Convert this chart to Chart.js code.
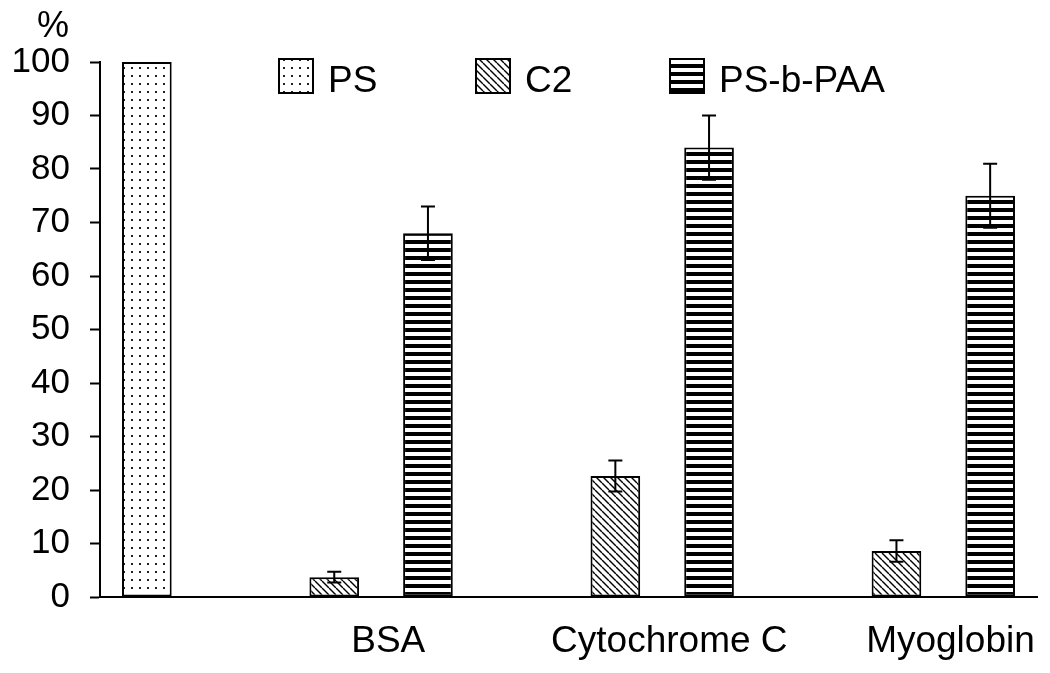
<!DOCTYPE html>
<html><head><meta charset="utf-8">
<script src="https://cdn.jsdelivr.net/npm/chart.js@4.4.1/dist/chart.umd.min.js"></script>
<style>html,body{margin:0;padding:0;background:#fff;} #wrap{width:1050px;height:673px;position:relative;}</style>
</head><body><div id="wrap"><canvas id="c"></canvas></div>
<script>
// ---- data ----
const categories = ["", "", "BSA", "", "", "Cytochrome C", "", "", "Myoglobin", ""];
const seriesNames = ["PS", "C2", "PS-b-PAA"];
const psValues = [100, null, null, null, null, null, null, null, null, null];
const c2Values = [null, null, 3.7, null, null, 22.6, null, null, 8.6, null];
const psbpaaValues = [null, null, null, 68, null, null, 84, null, null, 75];
const psErrors = [null, null, null, null, null, null, null, null, null, null];
const c2Errors = [null, null, 1.0, null, null, 2.9, null, null, 2.0, null];
const psbpaaErrors = [null, null, null, 5, null, null, 6, null, null, 6];
const yMin = 0, yMax = 100, yStep = 10;
const yUnit = "%";

// ---- patterns ----
function tile(w, h, draw) {
  const cv = document.createElement('canvas');
  cv.width = w; cv.height = h;
  const g = cv.getContext('2d');
  g.fillStyle = '#fff'; g.fillRect(0, 0, w, h);
  draw(g, w, h);
  return document.createElement('canvas').getContext('2d').createPattern(cv, 'repeat');
}
const dotPattern = tile(8, 8, (g) => { g.fillStyle = '#222'; g.fillRect(3, 3, 2, 2); });
const diagPattern = tile(7, 7, (g, s) => {
  g.strokeStyle = '#000'; g.lineWidth = 1.4;
  for (let k = -1; k <= 1; k++) { g.beginPath(); g.moveTo(k * s, 0); g.lineTo(k * s + s, s); g.stroke(); }
});
const stripePattern = tile(8, 8, (g) => { g.fillStyle = '#000'; g.fillRect(0, 0, 8, 4); });

const FONT = "'Liberation Sans', Arial, sans-serif";
Chart.defaults.font.family = FONT;
Chart.defaults.color = '#000';

const errorBars = {
  id: 'errorBars',
  afterDatasetsDraw(chart) {
    const ctx = chart.ctx, ys = chart.scales.y;
    ctx.save();
    ctx.strokeStyle = '#000'; ctx.lineWidth = 2;
    chart.data.datasets.forEach((ds, di) => {
      const meta = chart.getDatasetMeta(di);
      (ds.errors || []).forEach((e, i) => {
        const v = ds.data[i];
        if (e == null || v == null) return;
        const x = meta.data[i].x;
        const t = ys.getPixelForValue(v + e), b = ys.getPixelForValue(v - e);
        ctx.beginPath();
        ctx.moveTo(x, t); ctx.lineTo(x, b);
        ctx.moveTo(x - 7, t); ctx.lineTo(x + 7, t);
        ctx.moveTo(x - 7, b); ctx.lineTo(x + 7, b);
        ctx.stroke();
      });
    });
    ctx.restore();
  }
};

const customLegend = {
  id: 'customLegend',
  afterDraw(chart, args, opts) {
    const ctx = chart.ctx;
    ctx.save();
    chart.data.datasets.forEach((ds, i) => {
      const x = opts.boxX[i], y = opts.boxY, s = opts.box;
      ctx.fillStyle = ds.backgroundColor;
      ctx.fillRect(x, y, s, s);
      ctx.strokeStyle = '#000'; ctx.lineWidth = 2;
      ctx.strokeRect(x + 1, y + 1, s - 2, s - 2);
      ctx.fillStyle = '#000';
      ctx.font = opts.font;
      ctx.textAlign = 'left'; ctx.textBaseline = 'alphabetic';
      ctx.fillText(ds.label, x + s + opts.gap, opts.baseline);
    });
    ctx.font = opts.unitFont;
    ctx.textAlign = 'center';
    ctx.fillText(yUnit, opts.unitX, opts.unitBaseline);
    ctx.restore();
  }
};

new Chart(document.getElementById('c'), {
  type: 'bar',
  data: {
    labels: categories,
    datasets: [
      { label: seriesNames[0], data: psValues, errors: psErrors, backgroundColor: dotPattern },
      { label: seriesNames[1], data: c2Values, errors: c2Errors, backgroundColor: diagPattern },
      { label: seriesNames[2], data: psbpaaValues, errors: psbpaaErrors, backgroundColor: stripePattern }
    ]
  },
  options: {
    responsive: true, maintainAspectRatio: false, animation: false, events: [],
    devicePixelRatio: 1,
    layout: { padding: { top: 62, right: 13, bottom: 0, left: 0 } },
    datasets: { bar: { grouped: false, barPercentage: 0.53, categoryPercentage: 1, borderColor: '#000', borderWidth: 2, borderSkipped: false } },
    plugins: {
      legend: { display: false }, tooltip: { enabled: false }, title: { display: false },
      customLegend: { boxX: [278, 475, 669], boxY: 58, box: 36, gap: 14, baseline: 92,
        font: "37px " + FONT, unitFont: "36px " + FONT, unitX: 53, unitBaseline: 37 }
    },
    scales: {
      x: {
        grid: { display: true, drawOnChartArea: false, drawTicks: false },
        border: { display: true, color: '#000', width: 2 },
        ticks: { autoSkip: false, maxRotation: 0, minRotation: 0, labelOffset: 54, padding: 23,
                 font: { size: 37 }, color: '#000' },
        afterFit(s) { s.height = 76; }
      },
      y: {
        min: yMin, max: yMax,
        grid: { display: true, drawOnChartArea: false, drawTicks: true, tickLength: 10, tickColor: '#000', tickWidth: 2 },
        border: { display: true, color: '#000', width: 2 },
        ticks: { stepSize: yStep, padding: 20, font: { size: 35 }, color: '#000' },
        afterFit(s) { s.width = 100; }
      }
    }
  },
  plugins: [errorBars, customLegend]
});
</script></body></html>
